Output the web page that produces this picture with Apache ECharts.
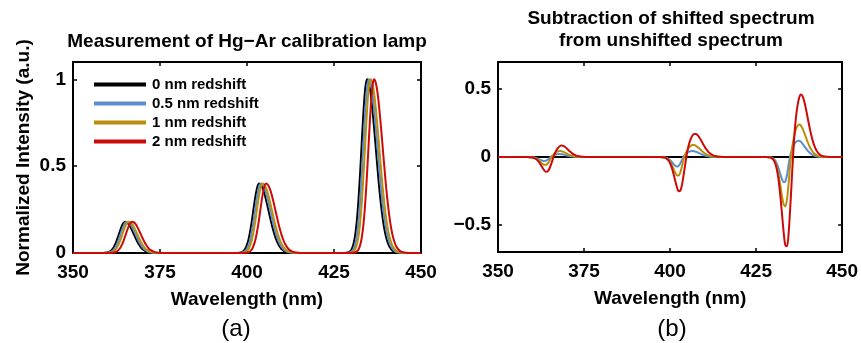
<!DOCTYPE html>
<html>
<head>
<meta charset="utf-8">
<script src="https://cdn.jsdelivr.net/npm/echarts@6/dist/echarts.min.js"></script>
<style>
  html, body { margin: 0; padding: 0; background: #fff; }
  #chart { width: 861px; height: 343px; }
</style>
</head>
<body>
<div id="chart"></div>
<script>
var step = 0.5;
var waveStart = 350;
var waveEnd = 450;
var peak365Start = 358;
var peak365 = [0, 0, 0.001, 0.002, 0.004, 0.008, 0.015, 0.027, 0.045, 0.069, 0.097, 0.127, 0.154, 0.173, 0.180,
    0.176, 0.166, 0.149, 0.129, 0.107, 0.085, 0.065, 0.047, 0.033, 0.022, 0.015, 0.009, 0.005, 0.003, 0.002, 0.001];
var peak404Start = 396.5;
var peak404 = [0, 0, 0.001, 0.002, 0.005, 0.012, 0.025, 0.048, 0.084, 0.136, 0.200, 0.271, 0.336, 0.383, 0.400,
    0.393, 0.374, 0.343, 0.304, 0.261, 0.216, 0.173, 0.134, 0.100, 0.072, 0.050, 0.034, 0.022, 0.014, 0.008,
    0.005, 0.003, 0.002, 0.001];
var peak435Start = 427;
var peak435 = [0, 0, 0, 0.001, 0.003, 0.008, 0.019, 0.044, 0.091, 0.172, 0.295, 0.458, 0.644, 0.823, 0.952, 1.000,
    0.980, 0.923, 0.835, 0.726, 0.607, 0.487, 0.375, 0.278, 0.198, 0.135, 0.089, 0.056, 0.034, 0.020, 0.011,
    0.006, 0.003, 0.002, 0.001];

var names = ['0 nm redshift', '0.5 nm redshift', '1 nm redshift', '2 nm redshift'];
var shifts = [0, 0.5, 1, 2];
var colors = ['#000000', '#5a8ed0', '#b8900c', '#cc0a0a'];
var yTicksA = [0, 0.5, 1];
var yTicksB = [-0.5, 0, 0.5];

var font = "'Liberation Sans', Arial, Helvetica, sans-serif";

var count = Math.round((waveEnd - waveStart) / step) + 1;
var base = [];
for (var i = 0; i < count; i++) base.push(0);

function place(start, values) {
    var k = Math.round((start - waveStart) / step);
    for (var j = 0; j < values.length; j++) base[k + j] = values[j];
}
place(peak365Start, peak365);
place(peak404Start, peak404);
place(peak435Start, peak435);

function shifted(shift) {
    var k = Math.round(shift / step);
    var out = [];
    for (var i = 0; i < count; i++) out.push(i - k >= 0 ? base[i - k] : 0);
    return out;
}

var series = [];
shifts.forEach(function (s, n) {
    var sp = shifted(s);
    var a = [], b = [];
    for (var i = 0; i < count; i++) {
        var wl = waveStart + i * step;
        a.push([wl, sp[i]]);
        b.push([wl, +(sp[i] - base[i]).toFixed(4)]);
    }
    series.push({
        name: names[n], type: 'line', xAxisIndex: 0, yAxisIndex: 0, data: a,
        showSymbol: false, silent: true, color: colors[n], smooth: 0.3,
        lineStyle: {width: 2, color: colors[n]}
    });
    series.push({
        name: names[n], type: 'line', xAxisIndex: 2, yAxisIndex: 2, data: b,
        showSymbol: false, silent: true, color: colors[n], smooth: 0.3,
        lineStyle: {width: 2, color: colors[n]}
    });
});
series.sort(function (p, q) { return p.xAxisIndex - q.xAxisIndex; });

function fmt(v) {
    return v < 0 ? '\u2212' + Math.abs(v) : String(v);
}

var labelStyle = {fontFamily: font, fontSize: 19, fontWeight: 'bold', color: '#000'};
var lineBox = {show: true, onZero: false, lineStyle: {color: '#000', width: 2}};

function xAxis(grid, pos, named) {
    return {
        type: 'value', gridIndex: grid, position: pos, min: 350, max: 450, interval: 25,
        axisLine: lineBox,
        axisTick: {show: true, inside: true, length: 4, lineStyle: {color: '#000', width: 1.5}},
        axisLabel: named ? Object.assign({margin: 10, formatter: fmt}, labelStyle) : {show: false},
        splitLine: {show: false},
        name: named ? 'Wavelength (nm)' : '',
        nameLocation: 'middle', nameGap: 37,
        nameTextStyle: labelStyle
    };
}

function yAxis(grid, pos, min, max, ticks, named, title) {
    return {
        type: 'value', gridIndex: grid, position: pos, min: min, max: max,
        axisLine: lineBox,
        axisTick: {show: true, inside: true, length: 4, customValues: ticks, lineStyle: {color: '#000', width: 1.5}},
        axisLabel: named ? Object.assign({margin: 7, customValues: ticks, formatter: fmt}, labelStyle) : {show: false},
        splitLine: {show: false},
        name: title || '',
        nameLocation: 'middle', nameGap: 40,
        nameTextStyle: labelStyle
    };
}

function text(x, y, str, size, weight) {
    return {
        type: 'text', x: x, y: y, silent: true,
        style: {
            text: str, fill: '#000', align: 'center', verticalAlign: 'middle',
            font: weight + ' ' + size + 'px ' + font
        }
    };
}

var option = {
    animation: false,
    backgroundColor: '#fff',
    grid: [
        {left: 73, top: 62, width: 348, height: 191},
        {left: 498, top: 62, width: 347, height: 190}
    ],
    xAxis: [
        xAxis(0, 'bottom', true),
        xAxis(0, 'top', false),
        xAxis(1, 'bottom', true),
        xAxis(1, 'top', false)
    ],
    yAxis: [
        yAxis(0, 'left', 0, 1.1, yTicksA, true, 'Normalized Intensity (a.u.)'),
        yAxis(0, 'right', 0, 1.1, yTicksA, false),
        yAxis(1, 'left', -0.7, 0.7, yTicksB, true),
        yAxis(1, 'right', -0.7, 0.7, yTicksB, false)
    ],
    legend: {
        data: names, orient: 'vertical', left: 89, top: 72,
        icon: 'rect', itemWidth: 52, itemHeight: 4, itemGap: 4,
        selectedMode: false,
        textStyle: {fontFamily: font, fontSize: 15, fontWeight: 'bold', color: '#000', padding: [0, 0, 0, 1]}
    },
    graphic: [
        text(247, 42, 'Measurement of Hg\u2212Ar calibration lamp', 19, 'bold'),
        text(671, 19, 'Subtraction of shifted spectrum', 19, 'bold'),
        text(671, 41, 'from unshifted spectrum', 19, 'bold'),
        text(236, 329, '(a)', 24, 'normal'),
        text(672, 329, '(b)', 24, 'normal')
    ],
    series: series
};

var chart = echarts.init(document.getElementById('chart'));
chart.setOption(option);
</script>
</body>
</html>
